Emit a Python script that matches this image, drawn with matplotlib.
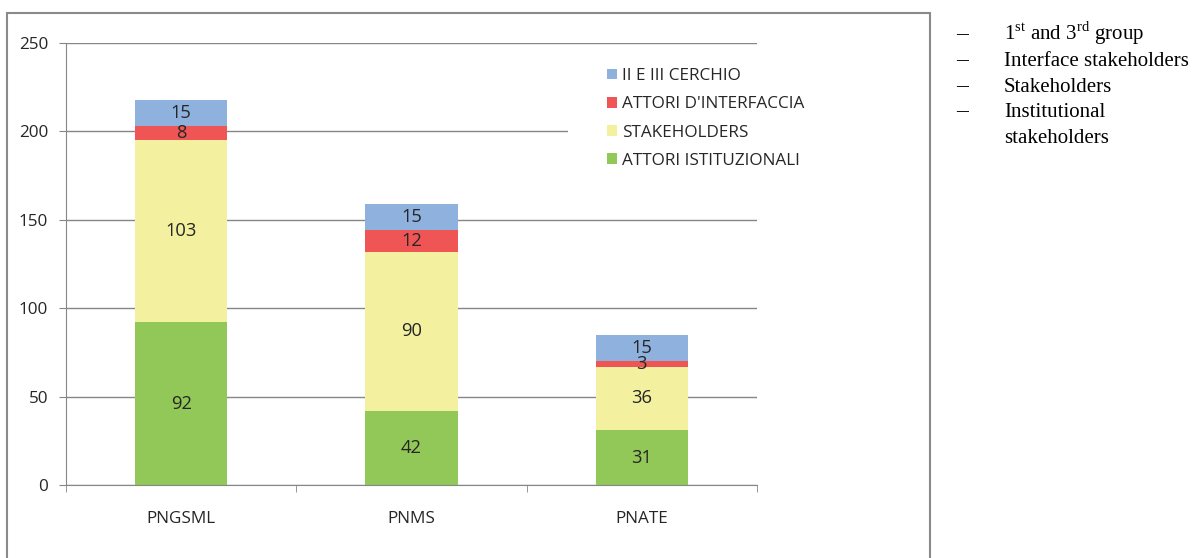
'''
Stacked bar chart of stakeholder groups per park, with an English key on the right.
'''
import matplotlib
matplotlib.use('Agg')
import matplotlib.pyplot as plt
from matplotlib.patches import Rectangle

parks = ['PNGSML', 'PNMS', 'PNATE']
istituzionali = [92, 42, 31]
stakeholders = [103, 90, 36]
interfaccia = [8, 12, 3]
cerchio = [15, 15, 15]

series = [
    ('ATTORI ISTITUZIONALI', istituzionali, '#92C857'),
    ('STAKEHOLDERS', stakeholders, '#F3F19F'),
    ("ATTORI D'INTERFACCIA", interfaccia, '#F05555'),
    ('II E III CERCHIO', cerchio, '#8EB1DE'),
]

# (dash?, text) for each line of the key
key_lines = [
    (True, r'1$^{\mathrm{st}}$ and 3$^{\mathrm{rd}}$ group'),
    (True, 'Interface stakeholders'),
    (True, 'Stakeholders'),
    (True, 'Institutional'),
    (False, 'stakeholders'),
]

plt.rcParams['font.family'] = ['Open Sans', 'DejaVu Sans']
plt.rcParams['mathtext.fontset'] = 'custom'
plt.rcParams['mathtext.rm'] = 'Liberation Serif'

GRID = '#868686'
TEXT = '#262626'
FS = 12.3

fig = plt.figure(figsize=(11.94, 5.58), dpi=100)
ax = fig.add_axes([0.0553, 0.1308, 0.5787, 0.7921])

x = list(range(len(parks)))
bottom = [0] * len(parks)
handles = []
for name, values, color in series:
    bars = ax.bar(x, values, width=0.4, bottom=bottom, color=color,
                  label=name, zorder=2)
    ax.bar_label(bars, label_type='center', fontsize=13.2, color=TEXT)
    bottom = [b + v for b, v in zip(bottom, values)]
    handles.append(bars)

ax.set_xlim(-0.5, 2.5)
ax.set_ylim(0, 250)
ax.set_yticks(range(0, 251, 50))
ax.yaxis.grid(True, color=GRID, linewidth=1, zorder=0.5)
ax.set_axisbelow(True)

ax.set_xticks(x)
ax.set_xticklabels(parks)
ax.set_xticks([-0.5, 0.5, 1.5, 2.5], minor=True)
ax.tick_params(axis='x', which='major', length=0, pad=19, labelsize=FS,
               labelcolor=TEXT)
ax.tick_params(axis='x', which='minor', length=5, color=GRID)
ax.tick_params(axis='y', length=5, color=GRID, pad=8, labelsize=FS,
               labelcolor=TEXT)

for side in ('top', 'right'):
    ax.spines[side].set_visible(False)
for side in ('left', 'bottom'):
    ax.spines[side].set_color(GRID)

# white patch behind the legend hides the grid line it overlaps
ax.add_patch(Rectangle((568 / 1194, 1 - 178 / 558), 240 / 1194, 116 / 558,
                       transform=fig.transFigure, facecolor='white',
                       edgecolor='none', zorder=1, clip_on=False))

leg = ax.legend(handles[::-1], [s[0] for s in series][::-1],
                loc='upper left', bbox_to_anchor=(607 / 1194, 1 - 68 / 558),
                bbox_transform=fig.transFigure, frameon=False, fontsize=FS,
                handlelength=0.6, handleheight=0.6, handletextpad=0.3,
                labelspacing=0.72, borderpad=0, borderaxespad=0)
for t in leg.get_texts():
    t.set_color(TEXT)

# outer border of the chart area
fig.patches.append(Rectangle((7 / 1194, -0.05), 923 / 1194, 1.05 - 13 / 558,
                             transform=fig.transFigure, fill=False,
                             edgecolor='#8A8A8A', linewidth=1.5))

# English key on the right
y = 40
for dash, line in key_lines:
    if dash:
        fig.text(956 / 1194, 1 - y / 558, '\u2013', family='Liberation Serif',
                 fontsize=17, va='baseline', ha='left')
    fig.text(1004 / 1194, 1 - y / 558, line, family='Liberation Serif',
             fontsize=15, va='baseline', ha='left')
    y += 25.8

fig.savefig('out.png', dpi=100)
